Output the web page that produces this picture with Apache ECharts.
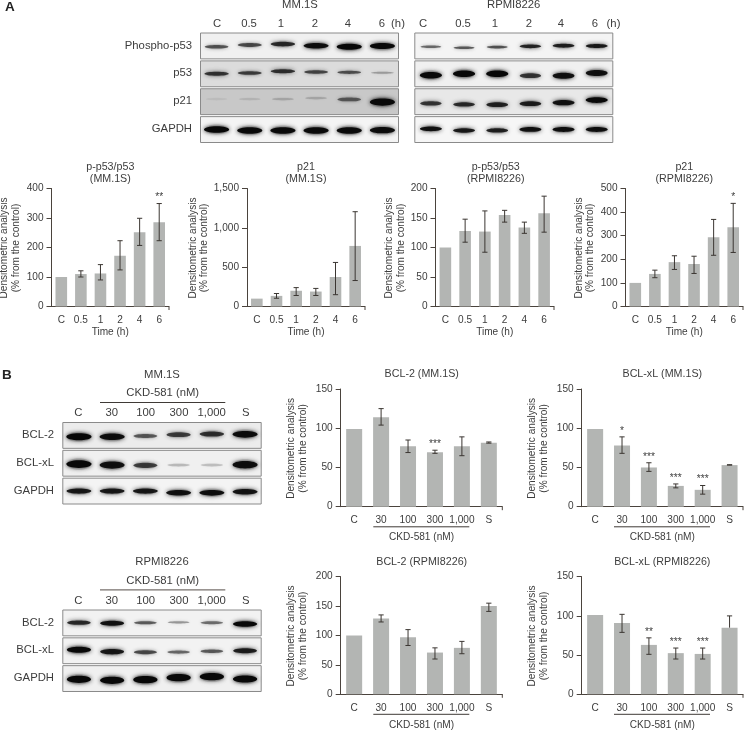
<!DOCTYPE html>
<html><head><meta charset="utf-8">
<style>html,body{margin:0;padding:0;background:#fff}#c{width:744px;height:730px}</style>
<script src="https://cdn.jsdelivr.net/npm/echarts@6/dist/echarts.min.js"></script>
</head><body><div id="c"></div>
<script>
// ---------- data ----------
const timeLabels = ['C','0.5','1','2','4','6'];
const doseLabels = ['C','30','100','300','1,000','S'];

const pp53MM   = [100,110,112,172,252,286];
const pp53MMLo = [null,100,90,124,207,223];
const pp53MMHi = [null,121,142,223,299,349];
const pp53MMSig = ['','','','','','**'];

const p21MM   = [100,135,200,190,375,770];
const p21MMLo = [null,105,140,140,150,330];
const p21MMHi = [null,165,240,230,560,1205];
const p21MMSig = ['','','','','',''];

const pp53RP   = [100,128,127,155,134,158];
const pp53RPLo = [null,109,92,143,124,126];
const pp53RPHi = [null,148,162,163,143,187];
const pp53RPSig = ['','','','','',''];

const p21RP   = [100,138,188,180,293,336];
const p21RPLo = [null,122,157,140,217,229];
const p21RPHi = [null,154,215,213,369,437];
const p21RPSig = ['','','','','','*'];

const bcl2MM   = [99,114,77,69.5,77,81.5];
const bcl2MMLo = [null,104,69,68,65,81];
const bcl2MMHi = [null,125,85,72,89,82.5];
const bcl2MMSig = ['','','','***','',''];

const bclxMM   = [99,78,50,26.5,21.5,53];
const bclxMMLo = [null,68,45,24,16,53];
const bclxMMHi = [null,89,56,29,27,53.5];
const bclxMMSig = ['','*','***','***','***',''];

const bcl2RP   = [100,129,97,71,79,150];
const bcl2RPLo = [null,123,83,60,69,141];
const bcl2RPHi = [null,135,110,79,90,155];
const bcl2RPSig = ['','','','','',''];

const bclxRP   = [101,91,63,52.5,51.5,85];
const bclxRPLo = [null,79,51,45,45,null];
const bclxRPHi = [null,102,72,59,59,100];
const bclxRPSig = ['','','**','***','***',''];

// band darkness, one row per antibody, one value per lane
const blotArows = ['Phospho-p53','p53','p21','GAPDH'];
const blotAMM = [[.58,.62,.78,.95,1,1],[.72,.66,.74,.62,.58,.25],[.04,.08,.14,.14,.5,1],[1,.98,.98,.98,.98,.95]];
const blotARP = [[.5,.56,.6,.82,.85,.88],[1,1,1,.72,.92,.92],[.72,.78,.82,.85,.92,1],[.92,.88,.84,.92,.95,.95]];
const blotBrows = ['BCL-2','BCL-xL','GAPDH'];
const blotBMM = [[1,.95,.55,.68,.75,.97],[1,.92,.68,.18,.16,.95],[.88,.88,.88,.92,.95,.9]];
const blotBRP = [[.78,.92,.55,.32,.48,1],[1,.88,.62,.5,.55,.85],[1,1,1,1,1,1]];
// panel background grey of each row
const shadeAMM = [240,220,200,244];
const shadeARP = [244,240,232,246];
const shadeBMM = [236,240,244];
const shadeBRP = [242,242,240];
// how far each band sits from the middle of its row
const driftAMM = [[.8,-.9,-1.9,-.2,.8,0],[-.1,-.8,-2.5,-1.8,-1.5,-1],[-2.6,-2.6,-2.6,-3.6,-2.3,.4],[0,.9,.9,.9,.9,.6]];
const driftARP = [[.8,1.8,1.1,.4,-.2,.1],[1.5,-.1,-.1,1.9,1.9,-.8],[1.7,2.7,3,2,1,-1.6],[-.7,.9,.9,-.1,-.1,-.1]];
const driftBMM = [[1.3,1.3,.6,-.7,-1.4,-1.1],[.8,1.8,2.1,1.8,1.8,1.5],[0,0,0,1.7,1.7,.7]];
const driftBRP = [[-.2,.4,-.2,-.6,-.2,1.1],[-1,1,1.5,1.3,.5,0],[.7,1.7,1.1,-.9,-1.9,.4]];

// ---------- layout ----------
const TXT='#3d3d3d', AX='#4a433d', BAR='#b3b5b3', ERR='#3b3632';
const FONT='"Liberation Sans",Arial,sans-serif';
const BLOTFS=11.3, TITLEFS=10.7;
const grids=[],xAxes=[],yAxes=[],series=[],graphics=[];

function txt(x,y,s,o){o=o||{};graphics.push({type:'text',x:x,y:y,silent:true,rotation:o.rot||0,
 style:{text:s,fill:o.fill||TXT,font:(o.weight||'normal')+' '+(o.size||10.1)+'px '+FONT,
 textAlign:o.align||'center',textVerticalAlign:'middle'}});}
function hline(x1,x2,y,c,w){graphics.push({type:'line',silent:true,shape:{x1:x1,y1:y,x2:x2,y2:y},style:{stroke:c,lineWidth:w}});}
function vline(x,y1,y2,c,w){graphics.push({type:'line',silent:true,shape:{x1:x,y1:y1,x2:x,y2:y2},style:{stroke:c,lineWidth:w}});}

function barChart(o){
 const i=grids.length;
 grids.push({left:o.l,top:o.t,width:o.r-o.l,height:o.b-o.t,outerBoundsMode:'none'});
 xAxes.push({type:'category',gridIndex:i,data:o.cats,
  axisLine:{lineStyle:{color:AX,width:1}},
  axisTick:{alignWithLabel:true,length:3.5,lineStyle:{color:AX,width:1}},
  axisLabel:{color:TXT,fontSize:10.1,fontFamily:FONT,margin:8.5,interval:0},
  name:o.xname||'',nameLocation:'middle',nameGap:o.xgap||19,
  nameTextStyle:{color:TXT,fontSize:10.1,fontFamily:FONT}});
 yAxes.push({type:'value',gridIndex:i,min:0,max:o.max,interval:o.step,
  splitLine:{show:false},
  axisLine:{show:true,lineStyle:{color:AX,width:1}},
  axisTick:{show:true,length:5,lineStyle:{color:AX,width:1}},
  axisLabel:{color:TXT,fontSize:10.1,fontFamily:FONT,margin:8,
   formatter:v=>v>=1000?String(v).replace(/(\d)(\d{3})$/,'$1,$2'):String(v)}});
 series.push({type:'bar',xAxisIndex:i,yAxisIndex:i,data:o.v,barWidth:o.bw,silent:true,
  itemStyle:{color:BAR},z:2});
 const rows=o.v.map((v,k)=>[k,o.lo[k],o.hi[k]]);
 series.push({type:'custom',xAxisIndex:i,yAxisIndex:i,silent:true,z:3,clip:false,data:rows,
  encode:{x:0,y:[1,2]},
  renderItem:function(p,api){
   const k=p.dataIndex,lo=o.lo[k],hi=o.hi[k],s=o.sig[k];
   const ch=[];
   if(hi!=null){
    const top=api.coord([k,hi]),mid=api.coord([k,lo!=null?lo:o.v[k]]);
    const lw={stroke:ERR,lineWidth:1};
    ch.push({type:'line',shape:{x1:top[0],y1:top[1],x2:mid[0],y2:mid[1]},style:lw});
    ch.push({type:'line',shape:{x1:top[0]-2.6,y1:top[1],x2:top[0]+2.6,y2:top[1]},style:lw});
    if(lo!=null)ch.push({type:'line',shape:{x1:mid[0]-2.6,y1:mid[1],x2:mid[0]+2.6,y2:mid[1]},style:lw});
   }
   if(s){
    const a=api.coord([k,hi]);
    ch.push({type:'text',x:a[0],y:a[1]-6,style:{text:s,fill:TXT,font:'10.2px '+FONT,textAlign:'center',textVerticalAlign:'middle'}});
   }
   return {type:'group',children:ch};
  }});
 // closing tick at right end of the x axis
 vline(o.r,o.b,o.b+3.5,AX,1);
 // y-axis name
 txt(o.yn1,(o.t+o.b)/2+0.5,'Densitometric analysis',{rot:Math.PI/2});
 txt(o.yn2,(o.t+o.b)/2+0.5,'(% from the control)',{rot:Math.PI/2});
}

function blot(o){
 const i=grids.length,n=o.rows.length;
 grids.push({left:o.l,top:o.t,width:o.r-o.l,height:o.b-o.t,outerBoundsMode:'none'});
 xAxes.push({type:'category',gridIndex:i,show:false,data:[0,1,2,3,4,5]});
 yAxes.push({type:'category',gridIndex:i,show:false,inverse:true,data:o.rows});
 const cells=[];
 o.d.forEach((r,ri)=>r.forEach((d,li)=>cells.push([li,ri,d,o.drift[ri][li]])));
 series.push({type:'custom',xAxisIndex:i,yAxisIndex:i,silent:true,z:1,clip:true,
  data:o.rows.map((r,k)=>[0,k,o.shade[k]]),
  renderItem:function(p,api){
   const c=api.coord([0,api.value(1)]),h=api.size([0,1])[1],g=api.value(2);
   return {type:'rect',shape:{x:o.l+0.5,y:c[1]-h/2+1,width:o.r-o.l-1,height:h-2},
    style:{fill:'rgb('+g+','+g+','+g+')',stroke:'#8a8a8a',lineWidth:1}};
  }});
 series.push({type:'custom',xAxisIndex:i,yAxisIndex:i,silent:true,z:2,clip:true,data:cells,
  renderItem:function(p,api){
   const c=api.coord([api.value(0),api.value(1)]),d=api.value(2),w=api.size([1,0])[0],cy=c[1]+api.value(3);
   const th=o.thick[api.value(1)];
   const ry=(0.9+2.1*Math.pow(d,1.5))*th,rx=(w*0.33+w*0.05*d)*o.wf;
   return {type:'group',children:[
    {type:'ellipse',shape:{cx:c[0],cy:cy,rx:rx*0.95,ry:ry*1.5},
     style:{fill:'rgba(40,40,40,'+(0.1*d+0.02)+')',shadowBlur:9,shadowColor:'rgba(40,40,40,'+(0.35*d+0.06)+')'}},
    {type:'ellipse',shape:{cx:c[0],cy:cy,rx:rx,ry:ry},
     style:{fill:'rgba(8,8,8,'+Math.min(1,d*1.0)+')',shadowBlur:3+1.5*d,shadowColor:'rgba(10,10,10,'+(0.2+0.7*d)+')'}}
   ]};
  }});
 if(o.lab!=null)o.rows.forEach((s,k)=>{txt(o.lab,o.t+(k+.5)*(o.b-o.t)/n-0.5,s,{align:'right',size:BLOTFS});});
}
const bt={size:BLOTFS}, tt={size:TITLEFS};

// ---------- panel A blots ----------
txt(5,7,'A',{weight:'bold',size:13.5,align:'left',fill:'#222'});
blot({l:200,r:399,t:32,b:143.5,rows:blotArows,d:blotAMM,shade:shadeAMM,drift:driftAMM,lab:192,thick:[1,.9,1.2,1.1],wf:1});
blot({l:414.3,r:613.3,t:32,b:143.5,rows:blotArows,d:blotARP,shade:shadeARP,drift:driftARP,thick:[.75,1.1,.95,.85],wf:.88});
txt(300,5,'MM.1S',bt);txt(513.7,5,'RPMI8226',bt);
[217,249,281,315,348,382].forEach((x,k)=>txt(x,23.5,timeLabels[k],bt));
txt(398,23.5,'(h)',bt);
[423,463,495,529,561,595].forEach((x,k)=>txt(x,23.5,timeLabels[k],bt));
txt(613.5,23.5,'(h)',bt);

// ---------- panel A charts ----------
const topA={t:188.5,b:306.5,bw:11.6,cats:timeLabels,xname:'Time (h)',xgap:21};
barChart({...topA,l:51.5,r:169,max:400,step:100,v:pp53MM,lo:pp53MMLo,hi:pp53MMHi,sig:pp53MMSig,yn1:4.5,yn2:16});
barChart({...topA,l:247,r:365,max:1500,step:500,v:p21MM,lo:p21MMLo,hi:p21MMHi,sig:p21MMSig,yn1:193.5,yn2:204.5});
barChart({...topA,l:435.5,r:554,max:200,step:50,v:pp53RP,lo:pp53RPLo,hi:pp53RPHi,sig:pp53RPSig,yn1:389.5,yn2:401});
barChart({...topA,l:625.5,r:743,max:500,step:100,v:p21RP,lo:p21RPLo,hi:p21RPHi,sig:p21RPSig,yn1:579,yn2:590});
[[110.3,'p-p53/p53','(MM.1S)'],[306,'p21','(MM.1S)'],[495.7,'p-p53/p53','(RPMI8226)'],[684.3,'p21','(RPMI8226)']]
 .forEach(a=>{txt(a[0],166.7,a[1],tt);txt(a[0],178.7,a[2],tt);});

// ---------- panel B blots ----------
txt(2,375,'B',{weight:'bold',size:13.5,align:'left',fill:'#222'});
blot({l:62.3,r:261.7,t:421.5,b:505,rows:blotBrows,d:blotBMM,shade:shadeBMM,drift:driftBMM,lab:54,thick:[1.15,1.3,1],wf:1});
blot({l:62.3,r:261.7,t:609,b:692.5,rows:blotBrows,d:blotBRP,shade:shadeBRP,drift:driftBRP,lab:54,thick:[.9,1,1.2],wf:.96});
const laneB=[78.3,111.7,145.7,179,211.7,245.7];
txt(162,374.5,'MM.1S',bt);txt(162.7,393,'CKD-581 (nM)',bt);hline(100,225.3,402.5,'#3f3a36',1);
laneB.forEach((x,k)=>txt(x,413.3,doseLabels[k],bt));
txt(162,561.7,'RPMI8226',bt);txt(162.7,580.7,'CKD-581 (nM)',bt);hline(100,225.3,589.8,'#77706c',1.3);
laneB.forEach((x,k)=>txt(x,600.7,doseLabels[k],bt));

// ---------- panel B charts ----------
const up={t:389,b:506.7,bw:16,cats:doseLabels,xname:'CKD-581 (nM)',xgap:26};
const low={t:576.7,b:694.3,bw:16,cats:doseLabels,xname:'CKD-581 (nM)',xgap:26};
barChart({...up,l:340.7,r:502.3,max:150,step:50,v:bcl2MM,lo:bcl2MMLo,hi:bcl2MMHi,sig:bcl2MMSig,yn1:291,yn2:303.3});
barChart({...up,l:581.7,r:743,max:150,step:50,v:bclxMM,lo:bclxMMLo,hi:bclxMMHi,sig:bclxMMSig,yn1:532.3,yn2:544.3});
barChart({...low,l:340.7,r:502.3,max:200,step:50,v:bcl2RP,lo:bcl2RPLo,hi:bcl2RPHi,sig:bcl2RPSig,yn1:291,yn2:303.3});
barChart({...low,l:581.7,r:743,max:150,step:50,v:bclxRP,lo:bclxRPLo,hi:bclxRPHi,sig:bclxRPSig,yn1:532.3,yn2:544.3});
txt(421.7,374.5,'BCL-2 (MM.1S)',tt);txt(662.3,374.5,'BCL-xL (MM.1S)',tt);
txt(421.7,561.7,'BCL-2 (RPMI8226)',tt);txt(662.3,561.7,'BCL-xL (RPMI8226)',tt);
[[373.3,469.3],[614,710]].forEach(a=>{hline(a[0],a[1],526.8,'#3f3a36',1);hline(a[0],a[1],714.3,'#3f3a36',1);});

const chart=echarts.init(document.getElementById('c'),null,{renderer:'canvas'});
chart.setOption({animation:false,backgroundColor:'#fff',grid:grids,xAxis:xAxes,yAxis:yAxes,series:series,
 graphic:{elements:graphics}});
</script></body></html>
